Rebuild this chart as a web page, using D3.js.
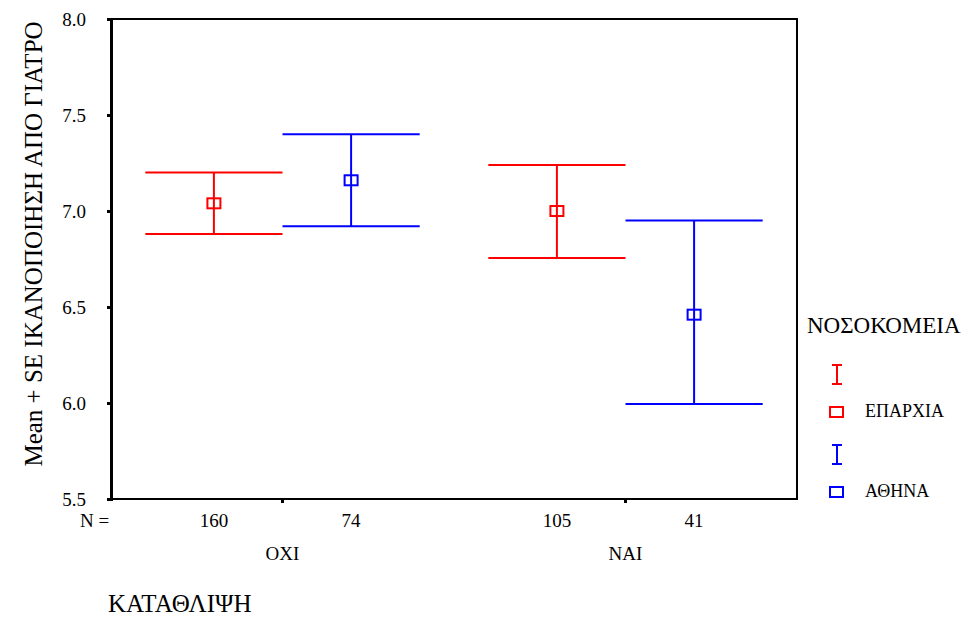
<!DOCTYPE html>
<html>
<head>
<meta charset="utf-8">
<script src="https://cdn.jsdelivr.net/npm/d3@7"></script>
</head>
<body style="margin:0">
<script>
// data
const groups     = ['ΟΧΙ', 'ΝΑΙ']
const hospitals  = ['ΕΠΑΡΧΙΑ', 'ΑΘΗΝΑ']
const colors     = ['#ff0000', '#0000ff']
const means      = [[7.04, 7.16], [7.00, 6.46]]
const upper      = [[7.20, 7.40], [7.24, 6.95]]
const lower      = [[6.88, 6.92], [6.755, 5.995]]
const counts     = [[160, 74], [105, 41]]
const yTicks     = [5.5, 6.0, 6.5, 7.0, 7.5, 8.0]

const FONT = 'Liberation Serif, Times New Roman, serif'

var width  = 970,
    height = 617,
    margin = { top: 19, right: 173, bottom: 118, left: 111 }

const svg = d3.select('body')
  .append('svg')
  .attr('width', width)
  .attr('height', height)
  .attr('font-family', FONT)

const x = d3.scaleBand()
  .domain(groups)
  .range([margin.left, width - margin.right])
  .padding(0)

// hospital offsets inside each group: at 30% and 70% of the band
const xSub = d3.scalePoint()
  .domain(hospitals)
  .range([0, x.bandwidth()])
  .padding(0.75)

const y = d3.scaleLinear()
  .domain([5.5, 8.0])
  .range([height - margin.bottom, margin.top])

// flatten into marks
const marks = []
groups.forEach((g, i) => {
  hospitals.forEach((h, j) => {
    marks.push({
      group: g, hosp: h, color: colors[j],
      mean: means[i][j], hi: upper[i][j], lo: lower[i][j], n: counts[i][j],
      cx: x(g) + xSub(h)
    })
  })
})
const capHalf = x.bandwidth() * 0.2

// frame
svg.append('rect')
  .attr('x', margin.left)
  .attr('y', margin.top)
  .attr('width', width - margin.left - margin.right)
  .attr('height', height - margin.top - margin.bottom)
  .attr('fill', 'none')
  .attr('stroke', '#000')
  .attr('stroke-width', 2)

// y axis
const yAxis = svg.append('g')
  .attr('transform', `translate(${margin.left},0)`)
  .call(d3.axisLeft(y).tickValues(yTicks).tickFormat(d3.format('.1f')).tickSize(4).tickPadding(21))
yAxis.attr('font-family', FONT).attr('font-size', 19)
yAxis.select('.domain').attr('stroke-width', 3)
yAxis.selectAll('.tick line').attr('stroke-width', 3)
yAxis.selectAll('text').attr('fill', '#000').attr('font-family', FONT)

// x category ticks
svg.selectAll('.xtick')
  .data(groups)
  .enter()
  .append('line')
    .attr('x1', d => x(d) + x.bandwidth() / 2)
    .attr('x2', d => x(d) + x.bandwidth() / 2)
    .attr('y1', y(5.5))
    .attr('y2', y(5.5) + 4)
    .attr('stroke', '#000')
    .attr('stroke-width', 3)

// error bars
const bars = svg.selectAll('.bar')
  .data(marks)
  .enter()
  .append('g')

bars.append('line')
  .attr('x1', d => d.cx).attr('x2', d => d.cx)
  .attr('y1', d => y(d.hi)).attr('y2', d => y(d.lo))
  .attr('stroke', d => d.color).attr('stroke-width', 2)
bars.append('line')
  .attr('x1', d => d.cx - capHalf).attr('x2', d => d.cx + capHalf)
  .attr('y1', d => y(d.hi)).attr('y2', d => y(d.hi))
  .attr('stroke', d => d.color).attr('stroke-width', 2)
bars.append('line')
  .attr('x1', d => d.cx - capHalf).attr('x2', d => d.cx + capHalf)
  .attr('y1', d => y(d.lo)).attr('y2', d => y(d.lo))
  .attr('stroke', d => d.color).attr('stroke-width', 2)
bars.append('rect')
  .attr('x', d => d.cx - 6.5)
  .attr('y', d => y(d.mean) - 5)
  .attr('width', 13)
  .attr('height', 10)
  .attr('fill', 'none')
  .attr('stroke', d => d.color)
  .attr('stroke-width', 2)

// N = counts
svg.append('text')
  .attr('x', 80).attr('y', 527)
  .attr('font-family', FONT).attr('font-size', 19)
  .text('N =')
svg.selectAll('.count')
  .data(marks)
  .enter()
  .append('text')
    .attr('x', d => d.cx)
    .attr('y', 527)
    .attr('text-anchor', 'middle')
    .attr('font-family', FONT).attr('font-size', 19)
    .text(d => d.n)

// group labels
svg.selectAll('.glabel')
  .data(groups)
  .enter()
  .append('text')
    .attr('x', d => x(d) + x.bandwidth() / 2)
    .attr('y', 560)
    .attr('text-anchor', 'middle')
    .attr('font-family', FONT).attr('font-size', 19)
    .text(d => d)

// axis titles
svg.append('text')
  .attr('x', 108).attr('y', 612)
  .attr('font-family', FONT).attr('font-size', 25)
  .text('ΚΑΤΑΘΛΙΨΗ')

svg.append('text')
  .attr('transform', 'translate(42,244) rotate(-90)')
  .attr('text-anchor', 'middle')
  .attr('font-family', FONT).attr('font-size', 25)
  .text('Mean + SE ΙΚΑΝΟΠΟΙΗΣΗ ΑΠΟ ΓΙΑΤΡΟ')

// legend
const legend = svg.append('g')
svg.append('text')
  .attr('x', 807).attr('y', 333)
  .attr('font-family', FONT).attr('font-size', 23)
  .text('ΝΟΣΟΚΟΜΕΙΑ')

hospitals.forEach((h, j) => {
  const top = 365 + j * 80
  const lx = 837
  const g = legend.append('g').attr('stroke', colors[j]).attr('stroke-width', 2)
  g.append('line').attr('x1', lx).attr('x2', lx).attr('y1', top).attr('y2', top + 19)
  g.append('line').attr('x1', lx - 5).attr('x2', lx + 5).attr('y1', top).attr('y2', top)
  g.append('line').attr('x1', lx - 5).attr('x2', lx + 5).attr('y1', top + 19).attr('y2', top + 19)
  g.append('rect').attr('x', lx - 7).attr('y', top + 42).attr('width', 13).attr('height', 10).attr('fill', 'none')
  legend.append('text')
    .attr('x', 865).attr('y', top + 52)
    .attr('font-family', FONT).attr('font-size', 18)
    .text(h)
})
</script>
</body>
</html>
